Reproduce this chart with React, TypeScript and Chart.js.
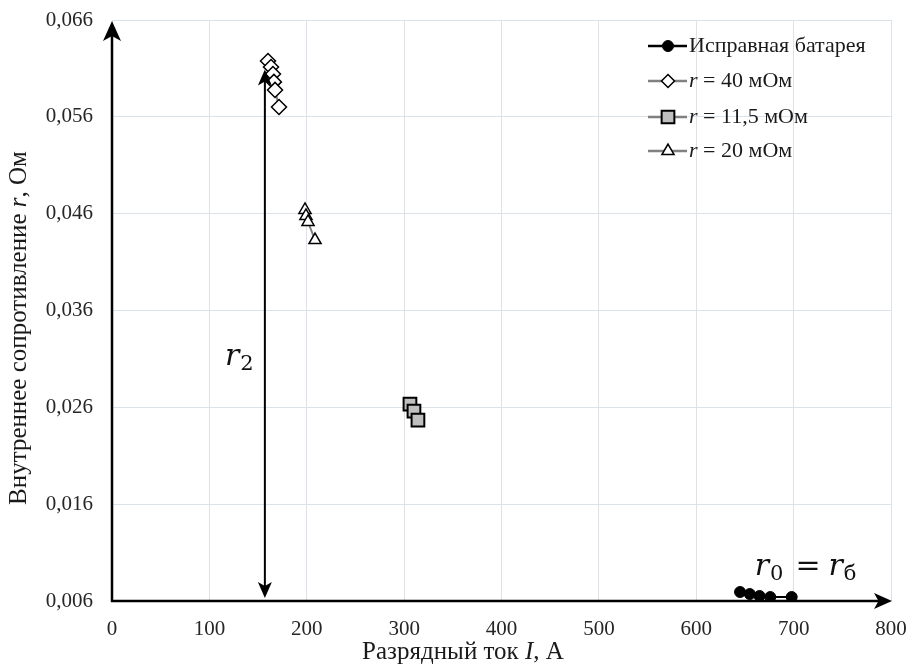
import React, { useEffect, useRef } from 'react';
import { Chart, registerables } from 'chart.js';

Chart.register(...registerables);

// ---- data ----
const xTicks = [0, 100, 200, 300, 400, 500, 600, 700, 800];
const yTicks = [0.006, 0.016, 0.026, 0.036, 0.046, 0.056, 0.066];

const healthyX = [645, 655, 665, 676, 698];
const healthyY = [0.00693, 0.00672, 0.00652, 0.00641, 0.00641];

const r40X = [160.2, 163.3, 165.3, 166.3, 167.4, 171.5];
const r40Y = [0.06177, 0.06115, 0.06043, 0.05961, 0.05878, 0.05702];

const r115X = [306.0, 310.1, 314.2];
const r115Y = [0.02634, 0.02562, 0.02469];

const r20X = [198.2, 199.2, 201.3, 208.5];
const r20Y = [0.04638, 0.04576, 0.04514, 0.04328];

const seriesLabels = ['Исправная батарея', 'r = 40 мОм', 'r = 11,5 мОм', 'r = 20 мОм'];

const xTitle = ['Разрядный ток ', 'I', ', А'];
const yTitle = ['Внутреннее сопротивление ', 'r', ', Ом'];

// annotation (data units)
const arrowX = 157;
const arrowTop = 0.0609;
const arrowBottom = 0.0063;
const r2Label = { x: 116, y: 0.0304 };
const r0Label = { x: 660, y: 0.0087 };

const SERIF = "'Liberation Serif', 'Times New Roman', serif";
const MATH = "'DejaVu Serif', 'Liberation Serif', serif";

const toPts = (xs: number[], ys: number[]) => xs.map((x, i) => ({ x, y: ys[i] }));

function drawMarker(ctx: CanvasRenderingContext2D, style: string, x: number, y: number, r: number, fill: string, stroke: string, lw: number) {
  ctx.save();
  ctx.beginPath();
  if (style === 'circle') {
    ctx.arc(x, y, r, 0, Math.PI * 2);
  } else if (style === 'rectRot') {
    ctx.moveTo(x, y - r);
    ctx.lineTo(x + r, y);
    ctx.lineTo(x, y + r);
    ctx.lineTo(x - r, y);
    ctx.closePath();
  } else if (style === 'rect') {
    const s = r * Math.SQRT1_2;
    ctx.rect(x - s, y - s, 2 * s, 2 * s);
  } else if (style === 'triangle') {
    for (let k = 0; k < 3; k++) {
      const a = (k * 2 * Math.PI) / 3;
      const px = x + Math.sin(a) * r;
      const py = y - Math.cos(a) * r;
      if (k === 0) ctx.moveTo(px, py); else ctx.lineTo(px, py);
    }
    ctx.closePath();
  }
  ctx.fillStyle = fill;
  ctx.fill();
  ctx.lineWidth = lw;
  ctx.strokeStyle = stroke;
  ctx.stroke();
  ctx.restore();
}

function drawParts(ctx: CanvasRenderingContext2D, parts: string[], size: number, cx: number, cy: number) {
  const fonts = parts.map((_, i) => (i % 2 === 1 ? `italic ${size}px ${SERIF}` : `${size}px ${SERIF}`));
  let total = 0;
  const widths = parts.map((p, i) => {
    ctx.font = fonts[i];
    const w = ctx.measureText(p).width;
    total += w;
    return w;
  });
  let x = cx - total / 2;
  ctx.textBaseline = 'middle';
  ctx.textAlign = 'left';
  parts.forEach((p, i) => {
    ctx.font = fonts[i];
    ctx.fillText(p, x, cy);
    x += widths[i];
  });
}

function arrowHead(ctx: CanvasRenderingContext2D, tx: number, ty: number, dx: number, dy: number, len: number, half: number) {
  ctx.beginPath();
  ctx.moveTo(tx, ty);
  ctx.lineTo(tx - dx * len - dy * half, ty - dy * len + dx * half);
  ctx.lineTo(tx - dx * len * 0.75, ty - dy * len * 0.75);
  ctx.lineTo(tx - dx * len + dy * half, ty - dy * len - dx * half);
  ctx.closePath();
  ctx.fill();
}

const decorPlugin = {
  id: 'decor',
  beforeDatasetsDraw(chart: any) {
    const { ctx, chartArea } = chart;
    const { left, right, top, bottom } = chartArea;
    ctx.save();
    ctx.strokeStyle = '#000';
    ctx.fillStyle = '#000';
    ctx.lineWidth = 2.5;
    // y axis
    ctx.beginPath();
    ctx.moveTo(left, bottom + 1);
    ctx.lineTo(left, top + 12);
    ctx.stroke();
    arrowHead(ctx, left, top + 1, 0, -1, 20, 9);
    // x axis
    ctx.beginPath();
    ctx.moveTo(left - 1, bottom);
    ctx.lineTo(right - 10, bottom);
    ctx.stroke();
    arrowHead(ctx, right + 1, bottom, 1, 0, 18, 8);
    ctx.restore();
  },
  afterDraw(chart: any) {
    const { ctx, scales } = chart;
    const xs = scales.x;
    const ys = scales.y;
    ctx.save();
    ctx.fillStyle = '#1a1a1a';
    // axis titles
    drawParts(ctx, xTitle, 25, 463, 652);
    ctx.save();
    ctx.translate(19, 328);
    ctx.rotate(-Math.PI / 2);
    drawParts(ctx, yTitle, 25, 0, 0);
    ctx.restore();

    // double arrow r2
    const ax = xs.getPixelForValue(arrowX);
    const at = ys.getPixelForValue(arrowTop);
    const ab = ys.getPixelForValue(arrowBottom);
    ctx.strokeStyle = '#000';
    ctx.fillStyle = '#000';
    ctx.lineWidth = 2;
    ctx.beginPath();
    ctx.moveTo(ax, at + 8);
    ctx.lineTo(ax, ab - 8);
    ctx.stroke();
    arrowHead(ctx, ax, at, 0, -1, 16, 7);
    arrowHead(ctx, ax, ab, 0, 1, 16, 7);

    // r2 label
    ctx.fillStyle = '#111';
    ctx.textBaseline = 'alphabetic';
    ctx.textAlign = 'left';
    let lx = xs.getPixelForValue(r2Label.x);
    const ly = ys.getPixelForValue(r2Label.y);
    ctx.font = `italic 30px ${MATH}`;
    ctx.fillText('r', lx, ly);
    lx += ctx.measureText('r').width + 1;
    ctx.font = `21px ${MATH}`;
    ctx.fillText('2', lx, ly + 5);

    // r0 = rб label
    let mx = xs.getPixelForValue(r0Label.x);
    const my = ys.getPixelForValue(r0Label.y);
    ctx.font = `italic 30px ${MATH}`;
    ctx.fillText('r', mx, my);
    mx += ctx.measureText('r').width + 1;
    ctx.font = `21px ${MATH}`;
    ctx.fillText('0', mx, my + 5);
    mx += ctx.measureText('0').width + 12;
    ctx.font = `30px ${MATH}`;
    ctx.fillText('=', mx, my);
    mx += ctx.measureText('=').width + 8;
    ctx.font = `italic 30px ${MATH}`;
    ctx.fillText('r', mx, my);
    mx += ctx.measureText('r').width + 1;
    ctx.font = `21px ${MATH}`;
    ctx.fillText('б', mx, my + 5);

    // legend
    const rowsY = [46, 81, 117, 151];
    const lineX0 = 648;
    const lineX1 = 687;
    const markX = 668;
    const textX = 689;
    chart.data.datasets.forEach((ds: any, i: number) => {
      const y = rowsY[i];
      ctx.strokeStyle = ds.borderColor;
      ctx.lineWidth = ds.borderWidth + 0.5;
      ctx.beginPath();
      ctx.moveTo(lineX0, y);
      ctx.lineTo(lineX1, y);
      ctx.stroke();
      drawMarker(ctx, ds.pointStyle, markX, y, ds.legendRadius, ds.pointBackgroundColor, ds.pointBorderColor, ds.pointBorderWidth);
      const label: string = ds.label;
      ctx.fillStyle = '#1a1a1a';
      ctx.textBaseline = 'middle';
      ctx.textAlign = 'left';
      let tx = textX;
      if (label.startsWith('r ')) {
        ctx.font = `italic 22px ${SERIF}`;
        ctx.fillText('r', tx, y);
        tx += ctx.measureText('r').width;
        ctx.font = `22px ${SERIF}`;
        ctx.fillText(label.slice(1), tx, y);
      } else {
        ctx.font = `22px ${SERIF}`;
        ctx.fillText(label, tx, y);
      }
    });
    ctx.restore();
  },
};

export default function App() {
  const ref = useRef<HTMLCanvasElement>(null);
  useEffect(() => {
    if (!ref.current) return;
    const grid = { color: '#dbe2ea', lineWidth: 1, drawTicks: false };
    const tickFont = { family: SERIF, size: 21 };
    const chart = new Chart(ref.current, {
      type: 'scatter',
      data: {
        datasets: [
          {
            label: seriesLabels[0],
            data: toPts(healthyX, healthyY),
            showLine: true,
            borderColor: '#000',
            borderWidth: 2,
            pointStyle: 'circle',
            pointRadius: 5.5,
            pointBackgroundColor: '#000',
            pointBorderColor: '#000',
            pointBorderWidth: 1,
            legendRadius: 5.5,
          } as any,
          {
            label: seriesLabels[1],
            data: toPts(r40X, r40Y),
            showLine: true,
            borderColor: '#808080',
            borderWidth: 2,
            pointStyle: 'rectRot',
            pointRadius: 7.5,
            pointBackgroundColor: '#fff',
            pointBorderColor: '#000',
            pointBorderWidth: 1.5,
            legendRadius: 6.5,
          } as any,
          {
            label: seriesLabels[2],
            data: toPts(r115X, r115Y),
            showLine: true,
            borderColor: '#808080',
            borderWidth: 2,
            pointStyle: 'rect',
            pointRadius: 9,
            pointBackgroundColor: '#bfbfbf',
            pointBorderColor: '#000',
            pointBorderWidth: 2,
            legendRadius: 9,
          } as any,
          {
            label: seriesLabels[3],
            data: toPts(r20X, r20Y),
            showLine: true,
            borderColor: '#808080',
            borderWidth: 2,
            pointStyle: 'triangle',
            pointRadius: 7,
            pointBackgroundColor: '#fff',
            pointBorderColor: '#000',
            pointBorderWidth: 1.5,
            legendRadius: 7,
          } as any,
        ],
      },
      options: {
        animation: false,
        responsive: false,
        devicePixelRatio: 1,
        layout: { padding: { top: 20, right: 18, left: 0, bottom: 0 } },
        plugins: { legend: { display: false }, tooltip: { enabled: false } },
        scales: {
          x: {
            type: 'linear',
            min: 0,
            max: 800,
            afterBuildTicks: (s: any) => { s.ticks = xTicks.map((v) => ({ value: v })); },
            afterFit: (s: any) => { s.height = 65; s.paddingLeft = 0; s.paddingRight = 0; },
            ticks: { font: tickFont, color: '#262626', padding: 16, maxRotation: 0, autoSkip: false },
            grid,
            border: { display: false },
          },
          y: {
            type: 'linear',
            min: 0.006,
            max: 0.066,
            afterBuildTicks: (s: any) => { s.ticks = yTicks.map((v) => ({ value: v })); },
            afterFit: (s: any) => { s.width = 112; s.paddingTop = 0; s.paddingBottom = 0; },
            ticks: {
              font: tickFont,
              color: '#262626',
              padding: 19,
              autoSkip: false,
              callback: (v: any) => Number(v).toFixed(3).replace('.', ','),
            },
            grid,
            border: { display: false },
          },
        },
      },
      plugins: [decorPlugin],
    });
    return () => chart.destroy();
  }, []);
  return (
    <div style={{ position: 'absolute', left: 0, top: 0, width: 909, height: 666, background: '#fff' }}>
      <canvas ref={ref} width={909} height={666} />
    </div>
  );
}
